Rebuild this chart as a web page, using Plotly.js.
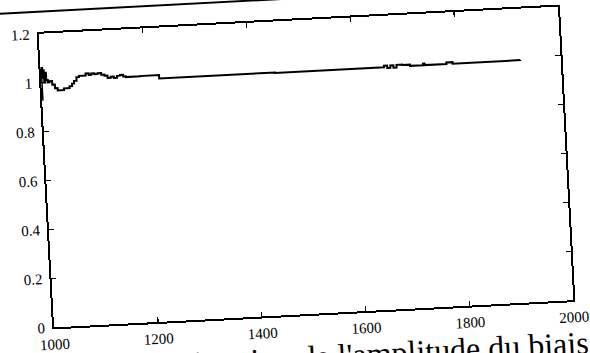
<!DOCTYPE html>
<html>
<head>
<meta charset="utf-8">
<script src="https://cdn.plot.ly/plotly-3.0.1.min.js"></script>
<style>
  html, body { margin: 0; padding: 0; background: #ffffff; overflow: hidden; width: 590px; height: 353px; }
  #wrap { position: absolute; left: -25px; top: -35px; width: 640px; height: 420px;
          transform: rotate(-3deg); transform-origin: 331px 202px; }
  #chart { width: 640px; height: 420px; }
</style>
</head>
<body>
<div id="wrap"><div id="chart"></div></div>
<script>
// Data (x: samples, y: estimated bias amplitude)
const xValues = [1000,1001,1003,1004,1006,1008,1010,1013,1016,1021,1026,1031,1037,1043,1049,1054,1059,1063,1068,1073,1080,1086,1092,1097,1103,1109,1116,1122,1128,1134,1140,1146,1152,1158,1163,1190,1227,1450,1660,1666,1672,1678,1684,1695,1710,1735,1738,1780,1792,1922];
const yValues = [0.93,1.06,1.02,1.05,1.00,1.04,1.01,1.00,1.005,0.99,0.975,0.965,0.965,0.972,0.972,0.98,0.99,1.0,1.015,1.02,1.02,1.028,1.022,1.027,1.023,1.027,1.02,1.015,1.005,1.01,1.004,1.012,1.015,1.008,1.005,1.006,0.992,0.990,0.996,0.986,0.996,0.986,0.997,0.995,0.99,0.996,0.99,0.996,0.99,0.991];
const xTicks = [1000,1200,1400,1600,1800,2000];
const xTickLabels = ["1000","1200","1400","1600","1800","2000"];
const yTicks = [0,0.2,0.4,0.6,0.8,1,1.2];
const yTickLabels = ["0","0.2","0.4","0.6","0.8","1","1.2"];
const captionText = "Estimation de l'amplitude du biais";

const trace = {
  x: xValues, y: yValues, type: 'scatter', mode: 'lines',
  line: { color: '#000000', width: 2, shape: 'hv' },
  hoverinfo: 'skip'
};

const axisCommon = {
  showgrid: false, zeroline: false, showline: true, linecolor: '#000', linewidth: 2,
  mirror: 'ticks', ticks: 'inside', ticklen: 5, tickwidth: 1.5, tickcolor: '#000',
  tickfont: { family: 'Liberation Serif, serif', size: 15, color: '#000' }
};

const layout = {
  width: 640, height: 420,
  margin: { l: 71, r: 49, t: 55, b: 71, pad: 0 },
  paper_bgcolor: 'rgba(0,0,0,0)', plot_bgcolor: '#ffffff',
  showlegend: false,
  xaxis: Object.assign({}, axisCommon, {
    range: [1000, 2000], tickvals: xTicks, ticktext: xTickLabels, ticklabelstandoff: 2
  }),
  yaxis: Object.assign({}, axisCommon, {
    range: [0, 1.2], tickvals: yTicks, ticktext: yTickLabels, ticklabelstandoff: 4
  }),
  shapes: [{
    type: 'line', xref: 'paper', yref: 'paper', x0: -0.2, x1: 1.0, y0: 1.075, y1: 1.075,
    line: { color: '#000', width: 2 }
  }],
  annotations: [{
    text: captionText, xref: 'paper', yref: 'paper', x: 1.028, y: -0.215,
    xanchor: 'right', yanchor: 'bottom', showarrow: false,
    font: { family: 'Liberation Serif, serif', size: 32, color: '#000' }
  }]
};

Plotly.newPlot('chart', [trace], layout, { staticPlot: true, displayModeBar: false });
</script>
</body>
</html>
